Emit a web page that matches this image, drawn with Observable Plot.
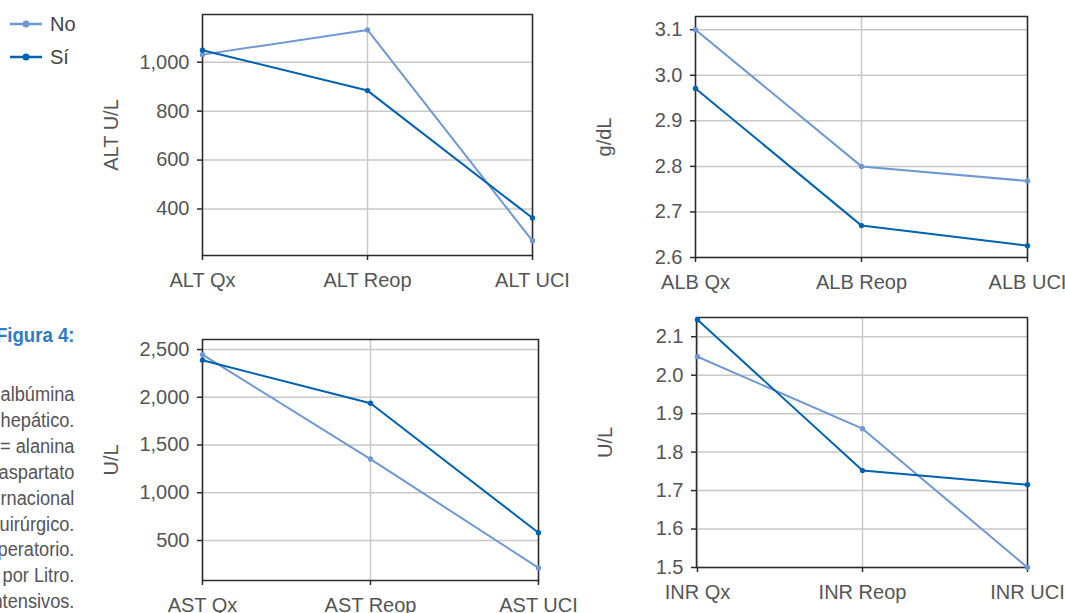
<!DOCTYPE html>
<html><head><meta charset="utf-8">
<script src="https://cdn.jsdelivr.net/npm/d3@7"></script>
<script src="https://cdn.jsdelivr.net/npm/@observablehq/plot@0.6"></script>
<style>
body{margin:0;background:#fff;}
#root{position:relative;width:1065px;height:613px;overflow:hidden;font-family:"Liberation Sans",Arial,sans-serif;background:#fff;}
.panel{position:absolute;}
.panel svg{overflow:visible;}
#legend{position:absolute;left:0;top:0;}
.lg-row{position:absolute;left:10px;height:20px;display:flex;align-items:center;white-space:nowrap;font-size:20px;color:#444;}
.lg-row span{margin-left:8px;}
#caption{position:absolute;right:calc(1065px - 74px);text-align:right;color:#555;font-size:20px;white-space:nowrap;transform:scaleX(0.91);transform-origin:right center;}
#figtitle{position:absolute;right:calc(1065px - 74px);top:324px;color:#2e7bc4;font-weight:bold;font-size:20px;white-space:nowrap;transform:scaleX(0.93);transform-origin:right center;}
</style></head><body><div id="root"></div>
<script>
const FONT = '"Liberation Sans", Arial, sans-serif';
const series = ["No", "Sí"];
const colors = ["#6f98d3", "#0061b0"];

const altCats = ["ALT Qx", "ALT Reop", "ALT UCI"];
const altNo = [1031, 1132, 270];
const altSi = [1049, 884, 363];
const altTicks = [400, 600, 800, 1000];

const albCats = ["ALB Qx", "ALB Reop", "ALB UCI"];
const albNo = [3.10, 2.80, 2.768];
const albSi = [2.971, 2.670, 2.626];
const albTicks = [2.6, 2.7, 2.8, 2.9, 3.0, 3.1];

const astCats = ["AST Qx", "AST Reop", "AST UCI"];
const astNo = [2447, 1353, 213];
const astSi = [2388, 1937, 581];
const astTicks = [500, 1000, 1500, 2000, 2500];

const inrCats = ["INR Qx", "INR Reop", "INR UCI"];
const inrNo = [2.048, 1.861, 1.500];
const inrSi = [2.144, 1.752, 1.715];
const inrTicks = [1.5, 1.6, 1.7, 1.8, 1.9, 2.0, 2.1];

const captionLines = ["albúmina", "hepático.", "= alanina", "aspartato", "internacional", "quirúrgico.", "operatorio.", "s por Litro.", "intensivos."];

const root = document.getElementById("root");

function panel({cats, no, si, label, domain, ticks, format, left, top, width, height, margin, labelOffset}) {
  const data = [];
  cats.forEach((c, i) => data.push({cat: c, value: no[i], serie: series[0]}));
  cats.forEach((c, i) => data.push({cat: c, value: si[i], serie: series[1]}));
  const chart = Plot.plot({
    width, height,
    marginTop: margin[0], marginRight: margin[1], marginBottom: margin[2], marginLeft: margin[3],
    style: {fontFamily: FONT, fontSize: "20px", color: "#333", background: "white", overflow: "visible"},
    x: {type: "point", domain: cats, padding: 0, axis: null},
    y: {domain, axis: null},
    color: {domain: series, range: colors},
    marks: [
      Plot.gridY(ticks, {stroke: "#c8c8c8", strokeOpacity: 1, strokeWidth: 1.5}),
      Plot.gridX(cats, {stroke: "#c8c8c8", strokeOpacity: 1, strokeWidth: 1.5}),
      Plot.frame({stroke: "#2b2b2b", strokeWidth: 1.5}),
      Plot.axisY(ticks, {tickSize: 5, tickPadding: 8, tickFormat: d3.format(format), fill: "#555", stroke: "#2b2b2b", strokeWidth: 1.5, fontSize: 20,
        label, labelAnchor: "center", labelArrow: "none", labelOffset}),
      Plot.axisX(cats, {tickSize: 5, tickPadding: 12, fill: "#555", stroke: "#2b2b2b", strokeWidth: 1.5, fontSize: 20, label: null}),
      Plot.line(data, {x: "cat", y: "value", stroke: "serie", z: "serie", strokeWidth: 2}),
      Plot.dot(data, {x: "cat", y: "value", fill: "serie", r: 2.7})
    ]
  });
  const div = document.createElement("div");
  div.className = "panel";
  div.style.left = left + "px";
  div.style.top = top + "px";
  div.appendChild(chart);
  root.appendChild(div);
}

panel({cats: altCats, no: altNo, si: altSi, label: "ALT U/L", domain: [210, 1195], ticks: altTicks, format: ",.0f",
  left: 100, top: 0, width: 480, height: 300, margin: [14, 48, 45, 102], labelOffset: 99});
panel({cats: albCats, no: albNo, si: albSi, label: "g/dL", domain: [2.6, 3.129], ticks: albTicks, format: ".1f",
  left: 580, top: 0, width: 485, height: 300, margin: [16, 38, 43, 115], labelOffset: 99});
panel({cats: astCats, no: astNo, si: astSi, label: "U/L", domain: [81, 2605], ticks: astTicks, format: ",.0f",
  left: 100, top: 300, width: 480, height: 313, margin: [39, 42, 33, 102], labelOffset: 99});
panel({cats: inrCats, no: inrNo, si: inrSi, label: "U/L", domain: [1.5, 2.15], ticks: inrTicks, format: ".1f",
  left: 580, top: 300, width: 485, height: 313, margin: [17, 38, 46, 116], labelOffset: 99});

// legend
const legend = document.createElement("div");
legend.id = "legend";
series.forEach((s, i) => {
  const row = document.createElement("div");
  row.className = "lg-row";
  row.style.top = (14 + i * 33) + "px";
  row.innerHTML = `<svg width="32" height="20"><line x1="0" x2="32" y1="10" y2="10" stroke="${colors[i]}" stroke-width="2.5"/><circle cx="16" cy="10" r="3.5" fill="${colors[i]}"/></svg><span>${s}</span>`;
  legend.appendChild(row);
});
root.appendChild(legend);

// caption (cropped at left edge)
const t = document.createElement("div");
t.id = "figtitle";
t.textContent = "Figura 4:";
root.appendChild(t);
const cap = document.createElement("div");
cap.id = "caption";
cap.style.top = "382px";
cap.style.lineHeight = "25.9px";
cap.innerHTML = captionLines.join("<br>");
root.appendChild(cap);
</script></body></html>
